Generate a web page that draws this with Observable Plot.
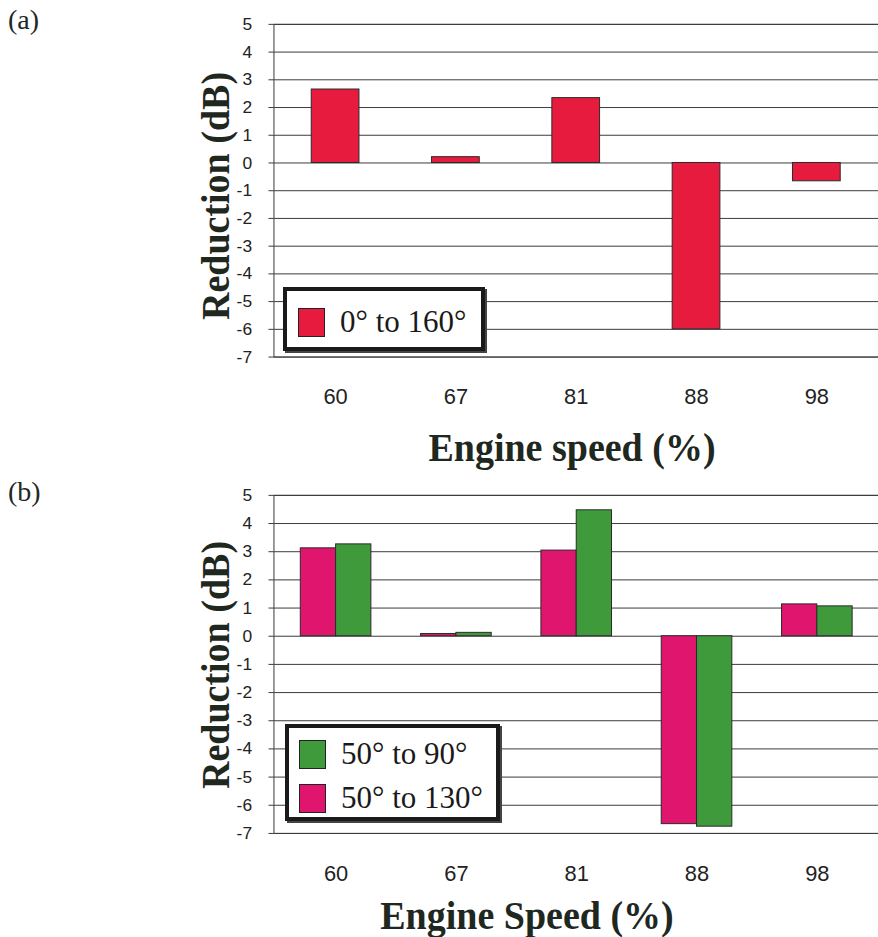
<!DOCTYPE html>
<html>
<head>
<meta charset="utf-8">
<script src="https://cdn.jsdelivr.net/npm/d3@7"></script>
<script src="https://cdn.jsdelivr.net/npm/@observablehq/plot@0.6"></script>
<style>
  html, body { margin: 0; padding: 0; overflow: hidden; background: #fff; }
  #page { position: relative; width: 878px; height: 937px; overflow: hidden; }
  .abs { position: absolute; }
  .serif { font-family: "Liberation Serif", "Times New Roman", serif; color: #1f281f; }
  .panel { font-size: 28px; }
  .xtitle { font-size: 38px; font-weight: bold; transform: translate(-50%, -50%) scale(1, 1.08); white-space: nowrap; line-height: 1; }
  .ytitle { font-size: 38px; font-weight: bold; transform: translate(-50%, -50%) rotate(-90deg) scale(1, 1.08); white-space: nowrap; line-height: 1; }
  .legend { border: 4px solid #1a1a1a; box-shadow: 2px 2px 0 #444; background: #fff; box-sizing: border-box; }
  .legrow { position: absolute; display: flex; align-items: center; }
  .sw { width: 27px; height: 29px; border: 1.5px solid #222; box-sizing: border-box; }
  .legtext { font-family: "Liberation Serif", "Times New Roman", serif; font-size: 31px; color: #1a1a1a; margin-left: 15px; white-space: nowrap; }
</style>
</head>
<body>
<div id="page"></div>
<script>
// ---- data ----
const speeds = ["60", "67", "81", "88", "98"];
const yTicks = [5, 4, 3, 2, 1, 0, -1, -2, -3, -4, -5, -6, -7];

const seriesA = "0° to 160°";
const reductionA = [2.65, 0.21, 2.34, -6.0, -0.66];

const seriesB = ["50° to 130°", "50° to 90°"];
const reduction130 = [3.12, 0.08, 3.04, -6.67, 1.13];
const reduction90 = [3.26, 0.12, 4.47, -6.76, 1.06];

const titleA = "Engine speed (%)";
const titleB = "Engine Speed (%)";
const yTitle = "Reduction (dB)";

const colorA = "#e61b3d";
const colorsB = ["#e0166e", "#3f9a3b"];

// ---- layout ----
const page = document.getElementById("page");
const plotLeft = 275, plotRight = 883;
const step = (plotRight - plotLeft) / speeds.length;

function makePanel({top, height, marginBottom, bars, padInner}) {
  const svg = Plot.plot({
    width: plotRight, height, marginLeft: plotLeft, marginRight: 0,
    marginTop: 24, marginBottom,
    style: {fontFamily: "'Liberation Sans', Arial, sans-serif", color: "#222", background: "transparent", overflow: "visible"},
    x: {domain: speeds, paddingInner: padInner, paddingOuter: padInner / 2, label: null},
    y: {domain: [-7, 5], label: null},
    marks: [
      Plot.gridY(yTicks, {stroke: "#3a3a3a", strokeOpacity: 1, strokeWidth: 1}),
      ...bars,
      Plot.frame({stroke: "#3a3a3a", strokeWidth: 1}),
      Plot.axisY(yTicks, {tickSize: 5, tickPadding: 17, fontSize: 17.5, tickFormat: d => `${d}`, label: null, stroke: "#3a3a3a"}),
      Plot.axisX({tickSize: 0, tickPadding: 32, fontSize: 22, label: null})
    ]
  });
  svg.style.position = "absolute";
  svg.style.left = "0px";
  svg.style.top = top + "px";
  page.appendChild(svg);
}

// Panel (a)
const dataA = speeds.map((s, i) => ({speed: s, value: reductionA[i]}));
makePanel({
  top: 0, height: 420, marginBottom: 420 - 358.6, padInner: 0.6,
  bars: [Plot.barY(dataA, {x: "speed", y: "value", fill: colorA, stroke: "#2a2a2a", strokeWidth: 1})]
});

// Panel (b)
const padB = 0.416;
const halfBand = step * (1 - padB) / 2;
const data130 = speeds.map((s, i) => ({speed: s, value: reduction130[i]}));
const data90 = speeds.map((s, i) => ({speed: s, value: reduction90[i]}));
makePanel({
  top: 471, height: 430, marginBottom: 430 - 364, padInner: padB,
  bars: [
    Plot.barY(data130, {x: "speed", y: "value", fill: colorsB[0], stroke: "#2a2a2a", strokeWidth: 1, insetRight: halfBand}),
    Plot.barY(data90, {x: "speed", y: "value", fill: colorsB[1], stroke: "#2a2a2a", strokeWidth: 1, insetLeft: halfBand})
  ]
});

// ---- text overlays ----
function addDiv(cls, text, css) {
  const d = document.createElement("div");
  d.className = "abs " + cls;
  d.textContent = text;
  Object.assign(d.style, css);
  page.appendChild(d);
  return d;
}
addDiv("serif panel", "(a)", {left: "8px", top: "4px"});
addDiv("serif panel", "(b)", {left: "8px", top: "476px"});
addDiv("serif xtitle", titleA, {left: "572px", top: "447px"});
addDiv("serif xtitle", titleB, {left: "527px", top: "915px"});
addDiv("serif ytitle", yTitle, {left: "215px", top: "196px"});
addDiv("serif ytitle", yTitle, {left: "215px", top: "665px"});

// ---- legends ----
function legend(box, rows) {
  const b = document.createElement("div");
  b.className = "abs legend";
  Object.assign(b.style, {left: box.x + "px", top: box.y + "px", width: box.w + "px", height: box.h + "px"});
  page.appendChild(b);
  rows.forEach(r => {
    const row = document.createElement("div");
    row.className = "legrow";
    row.style.left = (r.x - box.x - 4) + "px";
    row.style.top = (r.y - box.y - 4) + "px";
    const sw = document.createElement("div");
    sw.className = "sw";
    sw.style.background = r.color;
    const t = document.createElement("span");
    t.className = "legtext";
    t.textContent = r.label;
    row.appendChild(sw); row.appendChild(t);
    b.appendChild(row);
  });
}
legend({x: 283, y: 287, w: 202, h: 64}, [{x: 298, y: 304, color: colorA, label: seriesA}]);
legend({x: 285, y: 724, w: 215, h: 97}, [
  {x: 299, y: 736, color: colorsB[1], label: seriesB[1]},
  {x: 299, y: 780, color: colorsB[0], label: seriesB[0]}
]);
</script>
</body>
</html>
